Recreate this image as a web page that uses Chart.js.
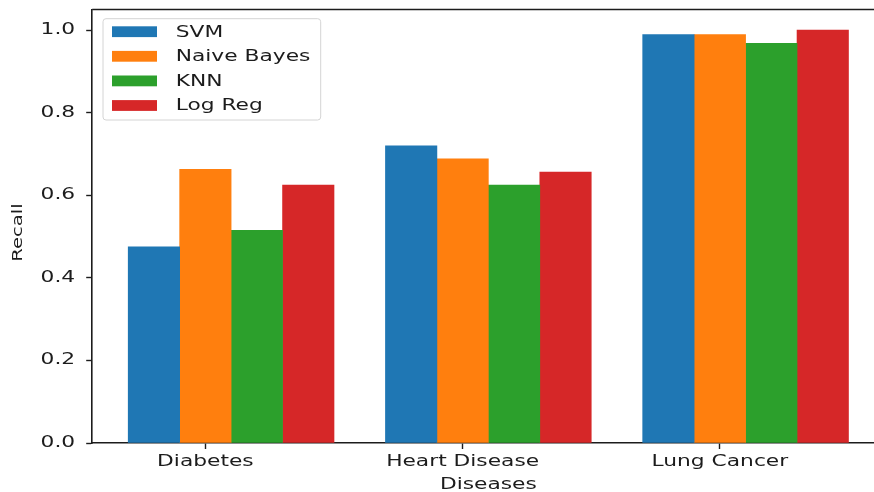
<!DOCTYPE html>
<html>
<head>
<meta charset="utf-8">
<title>Recall by disease</title>
<script src="https://cdn.jsdelivr.net/npm/chart.js@4.4.0/dist/chart.umd.min.js"></script>
<style>
  html, body { margin: 0; padding: 0; background: #fff; overflow: hidden; width: 874px; height: 492px; }
  #wrap { position: absolute; left: 0; top: 0; width: 874px; height: 492px; overflow: hidden; }
  canvas { display: block; }
</style>
</head>
<body>
<div id="wrap"><canvas id="c" width="900" height="510"></canvas></div>
<script>
// Recall per model for each disease
const diseases = ['Diabetes', 'Heart Disease', 'Lung Cancer'];
const models = ['SVM', 'Naive Bayes', 'KNN', 'Log Reg'];
const svmRecall = [0.475, 0.720, 0.989];
const naiveBayesRecall = [0.663, 0.688, 0.989];
const knnRecall = [0.515, 0.625, 0.968];
const logRegRecall = [0.625, 0.656, 1.0];
const recallTicks = [0, 0.2, 0.4, 0.6, 0.8, 1.0];

const seriesValues = [svmRecall, naiveBayesRecall, knnRecall, logRegRecall];
const colors = ['#1f77b4', '#ff7f0e', '#2ca02c', '#d62728'];
const barWidth = 0.2;
const textStretch = 1.45;   // glyphs are drawn expanded along the reading direction
const ink = '#1c1c1c';

// bar k of each group sits at index + (k - 1) * barWidth, so the tick lands on the second bar
const datasets = models.map((name, k) => ({
  label: name,
  data: diseases.map((d, i) => ({ x: i + (k - 1) * barWidth, y: seriesValues[k][i] })),
  backgroundColor: colors[k],
  borderWidth: 0,
  grouped: false,
  barPercentage: 1,
  categoryPercentage: 1
}));

// expanded text: every fillText is widened about its anchor and measureText reports the wider size
const canvas = document.getElementById('c');
const ctx2d = canvas.getContext('2d');
const rawFillText = ctx2d.fillText.bind(ctx2d);
const rawMeasureText = ctx2d.measureText.bind(ctx2d);
ctx2d.fillText = function (text, x, y) {
  this.save();
  this.translate(x, y);
  this.scale(textStretch, 1);
  rawFillText(text, 0, 0);
  this.restore();
};
ctx2d.measureText = function (text) {
  const m = rawMeasureText(text);
  return {
    width: m.width * textStretch,
    actualBoundingBoxAscent: m.actualBoundingBoxAscent,
    actualBoundingBoxDescent: m.actualBoundingBoxDescent,
    actualBoundingBoxLeft: m.actualBoundingBoxLeft * textStretch,
    actualBoundingBoxRight: m.actualBoundingBoxRight * textStretch
  };
};

// top and right spines of the axes box
const frame = {
  id: 'frame',
  afterDatasetsDraw(chart) {
    const { ctx, chartArea: a } = chart;
    ctx.save();
    ctx.strokeStyle = ink;
    ctx.lineWidth = 1.6;
    ctx.beginPath();
    ctx.moveTo(a.left, a.top);
    ctx.lineTo(a.right, a.top);
    ctx.lineTo(a.right, a.bottom);
    ctx.stroke();
    ctx.restore();
  }
};

// framed legend placed inside the plot, upper left
const boxLegend = {
  id: 'boxLegend',
  afterDraw(chart) {
    const { ctx, chartArea: a } = chart;
    const x0 = a.left + 10.8, y0 = a.top + 9.2, w = 217.7, h = 101.3;
    ctx.save();
    ctx.beginPath();
    ctx.roundRect(x0, y0, w, h, 3);
    ctx.fillStyle = 'rgba(255,255,255,0.8)';
    ctx.fill();
    ctx.strokeStyle = '#d4d4d4';
    ctx.lineWidth = 1;
    ctx.stroke();
    ctx.font = '15px "DejaVu Sans"';
    ctx.textBaseline = 'middle';
    ctx.textAlign = 'left';
    chart.data.datasets.forEach((ds, k) => {
      const cy = y0 + 13 + k * 24.6;
      ctx.fillStyle = ds.backgroundColor;
      ctx.fillRect(x0 + 9, cy - 5.4, 45, 10.8);
      ctx.fillStyle = ink;
      ctx.fillText(ds.label, x0 + 72.7, cy + 1);
    });
    ctx.restore();
  }
};

Chart.defaults.font.family = '"DejaVu Sans", sans-serif';
Chart.defaults.font.size = 15;
Chart.defaults.color = ink;

new Chart(canvas, {
  type: 'bar',
  data: { datasets },
  plugins: [frame, boxLegend],
  options: {
    responsive: false,
    animation: false,
    devicePixelRatio: 1,
    layout: { padding: { left: 0, top: 9.5, right: 15.5, bottom: 0 } },
    plugins: { legend: { display: false }, tooltip: { enabled: false } },
    scales: {
      x: {
        type: 'linear',
        min: -0.44,
        max: 2.64,
        offset: false,
        afterBuildTicks(s) { s.ticks = diseases.map((d, i) => ({ value: i })); },
        afterFit(s) { s.height = 67; s.paddingLeft = 0; s.paddingRight = 0; },
        ticks: {
          autoSkip: false,
          maxRotation: 0,
          padding: 4.5,
          color: ink,
          callback: (v) => diseases[Math.round(v)]
        },
        grid: { offset: false, drawOnChartArea: false, drawTicks: true, tickLength: 6, tickWidth: 1.4, tickColor: ink },
        border: { display: true, color: ink, width: 1.6 },
        title: { display: true, text: 'Diseases', color: ink, font: { size: 15 }, padding: { top: 0, bottom: 15.5 } }
      },
      y: {
        min: 0,
        max: 1.05,
        afterBuildTicks(s) { s.ticks = recallTicks.map(v => ({ value: v })); },
        afterFit(s) { s.width = 92.2; s.paddingTop = 0; s.paddingBottom = 0; },
        ticks: { padding: 11, color: ink, callback: (v) => Number(v).toFixed(1) },
        grid: { drawOnChartArea: false, drawTicks: true, tickLength: 6, tickWidth: 1.4, tickColor: ink },
        border: { display: true, color: ink, width: 1.6 },
        title: { display: true, text: 'Recall  ', color: ink, font: { size: 13.5 }, padding: { top: 10.2, bottom: 0 } }
      }
    }
  }
});
</script>
</body>
</html>
